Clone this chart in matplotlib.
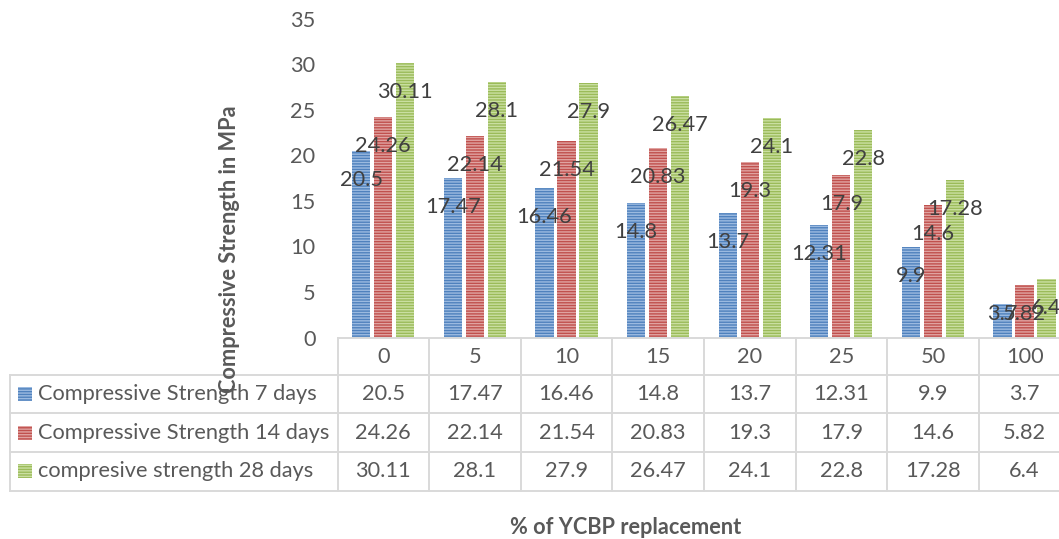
import matplotlib
matplotlib.use("Agg")
import matplotlib.pyplot as plt
from matplotlib.patches import Rectangle
from matplotlib.transforms import blended_transform_factory

# ---- data ----
categories = ["0", "5", "10", "15", "20", "25", "50", "100"]
series_names = ["Compressive Strength 7 days",
                "Compressive Strength 14 days",
                "compresive strength 28 days"]
s7 = [20.5, 17.47, 16.46, 14.8, 13.7, 12.31, 9.9, 3.7]
s14 = [24.26, 22.14, 21.54, 20.83, 19.3, 17.9, 14.6, 5.82]
s28 = [30.11, 28.1, 27.9, 26.47, 24.1, 22.8, 17.28, 6.4]
label_text7 = ["20.5", "17.47", "16.46", "14.8", "13.7", "12.31", "9.9", "3.7"]
label_text14 = ["24.26", "22.14", "21.54", "20.83", "19.3", "17.9", "14.6", "5.82"]
label_text28 = ["30.11", "28.1", "27.9", "26.47", "24.1", "22.8", "17.28", "6.4"]
yticks = [0, 5, 10, 15, 20, 25, 30, 35]
y_title = "Compressive Strength in MPa"
x_title = "% of YCBP replacement"

series = [s7, s14, s28]
label_texts = [label_text7, label_text14, label_text28]
face_colors = ["#4f81bd", "#c0504d", "#9bbb59"]
stripe_colors = ["#9bbae0", "#e0a3a1", "#cadfa2"]

W, H = 1059, 539
FONT = "Lato"
FS = 15.7
TXT = "#595959"
LBL = "#404040"
GRID = "#d9d9d9"

plt.rcParams["hatch.linewidth"] = 1.0
plt.rcParams["font.family"] = [FONT, "DejaVu Sans"]

fig = plt.figure(figsize=(W / 100, H / 100), dpi=100)


def fx(x):
    return x / W


def fy(y):
    return 1 - y / H


col_w = 91.6
ax_left = 337.5
y0_px = 337.5
ytop_px = 18.8
ax = fig.add_axes([fx(ax_left), fy(y0_px), 8 * col_w / W, (y0_px - ytop_px) / H])
ax.set_xlim(0, 8)
ax.set_ylim(0, 35)
for sp in ax.spines.values():
    sp.set_visible(False)
ax.set_xticks([])
ax.set_yticks(yticks)
ax.tick_params(axis="y", length=0, pad=22 * 0.72, labelsize=FS, labelcolor=TXT)
for t in ax.get_yticklabels():
    t.set_fontfamily([FONT, "DejaVu Sans"])

bar_w = 0.2
step = 0.24
xs = [i + 0.5 for i in range(len(categories))]
for k, (vals, fc, sc) in enumerate(zip(series, face_colors, stripe_colors)):
    pos = [x + (k - 1) * step for x in xs]
    ax.bar(pos, vals, width=bar_w, color=fc, edgecolor=sc, linewidth=0,
           hatch="------", zorder=2)

# data labels
px_per_unit = (y0_px - ytop_px) / 35.0
off = 29 / px_per_unit
min_y = 24 / px_per_unit
for k, (vals, texts) in enumerate(zip(series, label_texts)):
    for x, v, t in zip(xs, vals, texts):
        ax.text(x + (k - 1) * step, max(v - off, min_y), t, ha="center", va="center",
                fontsize=FS, color=LBL, zorder=5, clip_on=False)

# ---- data table ----
tr = blended_transform_factory(ax.transData, fig.transFigure)
row_lines = [338.3, 375, 413.3, 452.3, 490.5]
lw = 1.4
fig.add_artist(plt.Line2D([0, 9], [fy(row_lines[0])] * 2, transform=tr, color=GRID, lw=lw))
for i in range(9):
    fig.add_artist(plt.Line2D([i, i], [fy(row_lines[0]), fy(row_lines[-1])],
                              transform=tr, color=GRID, lw=lw))
for yl in row_lines[1:]:
    fig.add_artist(plt.Line2D([fx(10), fx(W + 20)], [fy(yl)] * 2,
                              transform=fig.transFigure, color=GRID, lw=lw))
fig.add_artist(plt.Line2D([fx(10), fx(10)], [fy(row_lines[1]), fy(row_lines[-1])],
                          transform=fig.transFigure, color=GRID, lw=lw))

hdr_y = (row_lines[0] + row_lines[1]) / 2
for x, c in zip(xs, categories):
    fig.text(x, fy(hdr_y), c, transform=tr, ha="center", va="center",
             fontsize=FS, color=TXT)

for r, (name, vals, texts, fc, sc) in enumerate(zip(series_names, series, label_texts,
                                                    face_colors, stripe_colors)):
    yc = (row_lines[r + 1] + row_lines[r + 2]) / 2
    fig.add_artist(Rectangle((fx(18.3), fy(yc + 7)), 14 / W, 14 / H,
                             transform=fig.transFigure, facecolor=fc, edgecolor=sc,
                             linewidth=0, hatch="------"))
    fig.text(fx(37.5), fy(yc), name, ha="left", va="center", fontsize=FS, color=TXT)
    for x, t in zip(xs, texts):
        fig.text(x, fy(yc), t, transform=tr, ha="center", va="center",
                 fontsize=FS, color=TXT)

fig.text(fx(230), fy(249), y_title, rotation=90, ha="center", va="center",
         fontsize=FS, fontweight="bold", color=TXT)
fig.text(fx(626), fy(527), x_title, ha="center", va="center",
         fontsize=FS, fontweight="bold", color=TXT)

fig.savefig("out.png", dpi=100)
